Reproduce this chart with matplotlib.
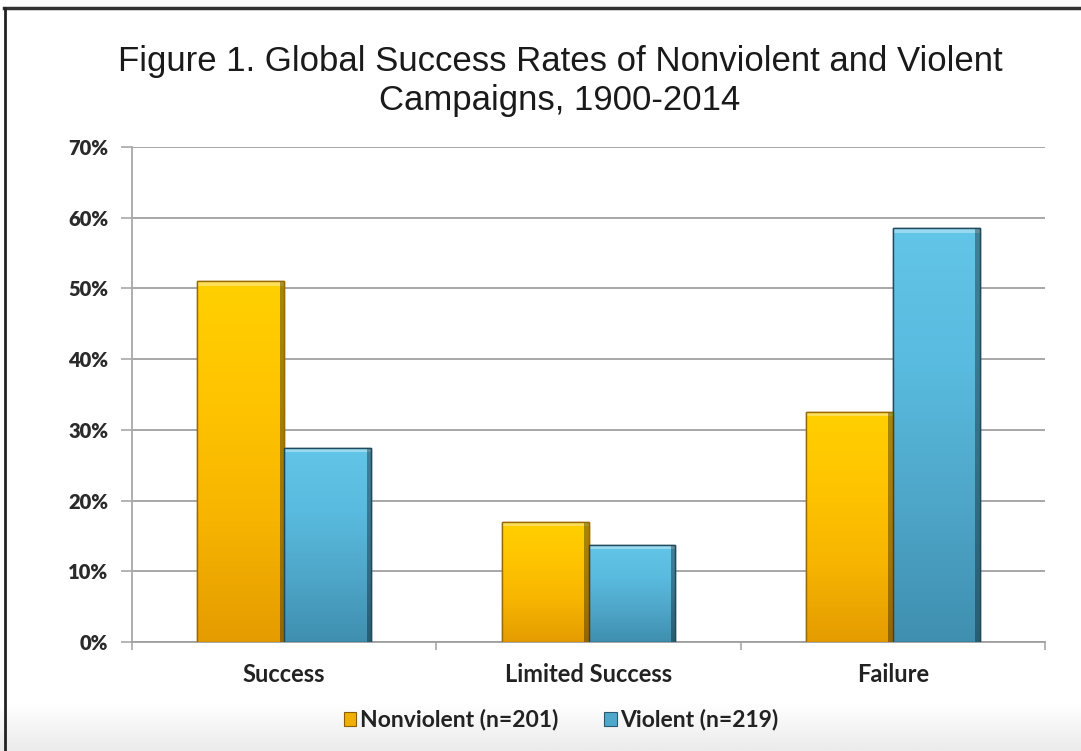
import matplotlib
matplotlib.use("Agg")
import matplotlib.pyplot as plt
import numpy as np
from matplotlib.colors import LinearSegmentedColormap
from matplotlib.patches import Rectangle
from matplotlib.lines import Line2D
from matplotlib.font_manager import FontProperties

# ---- data ----
categories = ["Success", "Limited Success", "Failure"]
nonviolent = [0.51, 0.17, 0.325]
violent = [0.275, 0.137, 0.585]
series_labels = ["Nonviolent (n=201)", "Violent (n=219)"]
yticks = [0.0, 0.1, 0.2, 0.3, 0.4, 0.5, 0.6, 0.7]
ytick_labels = ["0%", "10%", "20%", "30%", "40%", "50%", "60%", "70%"]
title = "Figure 1. Global Success Rates of Nonviolent and Violent\nCampaigns, 1900-2014"

W, H = 1081, 751
fig = plt.figure(figsize=(W / 100, H / 100), dpi=100)
fig.patch.set_facecolor("white")

# light gray gradient only at the very bottom of the slide
bg = fig.add_axes([0, 0, 1, 1], zorder=-10)
bg.axis("off")
grad = np.linspace(0, 1, 400).reshape(-1, 1)
bg_cmap = LinearSegmentedColormap.from_list(
    "bg", [(0.0, "#ececec"), (0.03, "#f5f5f5"), (0.06, "#ffffff"), (1.0, "#ffffff")])
bg.imshow(grad, aspect="auto", cmap=bg_cmap, extent=[0, 1, 0, 1], origin="lower")
bg.set_xlim(0, 1)
bg.set_ylim(0, 1)
# dark frame: top and left
bg.add_line(Line2D([0.004, 1], [1 - 8 / H, 1 - 8 / H], color="#333333", lw=2.5))
bg.add_line(Line2D([5 / W, 5 / W], [0, 1 - 8 / H], color="#222222", lw=2.0))

ax = fig.add_axes([132 / W, 1 - 642 / H, (1045 - 132) / W, (642 - 147) / H])
ax.set_facecolor("none")
x = np.arange(len(categories))
bw = 0.285

orange_cmap = LinearSegmentedColormap.from_list("or", ["#e49c00", "#f7b400", "#ffc400", "#ffd000"])
blue_cmap = LinearSegmentedColormap.from_list("bl", ["#3f8fb0", "#4ea6c8", "#59bbdf", "#62c6e8"])

bars1 = ax.bar(x - bw / 2, nonviolent, bw, color="#f8b500", edgecolor="#9a6a00", linewidth=1.0, zorder=3)
bars2 = ax.bar(x + bw / 2, violent, bw, color="#55b2d6", edgecolor="#1f4a5e", linewidth=1.0, zorder=3)

ax.set_xlim(-0.5, 2.5)
ax.set_ylim(0, 0.7)

gvals = np.linspace(0, 1, 256).reshape(-1, 1)
for bars, cmap in ((bars1, orange_cmap), (bars2, blue_cmap)):
    for b in bars:
        x0, y0 = b.get_x(), b.get_y()
        w, h = b.get_width(), b.get_height()
        im = ax.imshow(gvals, aspect="auto", cmap=cmap, origin="lower",
                       extent=[x0, x0 + w, y0, y0 + h], zorder=3.5)
        im.set_clip_path(b)
        # bevel highlight at top and dark right edge
        ax.add_patch(Rectangle((x0, y0 + h - 0.006), w, 0.006, facecolor="white", alpha=0.35,
                               edgecolor="none", zorder=3.6))
        ax.add_patch(Rectangle((x0 + w * 0.95, y0), w * 0.05, h, facecolor="black", alpha=0.35,
                               edgecolor="none", zorder=3.6))
        ax.add_patch(Rectangle((x0, y0), w, h, facecolor="none",
                               edgecolor=b.get_edgecolor(), linewidth=1.0, zorder=3.7))

tick_font = FontProperties(family="Lato", weight="heavy", size=14.5)
ax.set_yticks(yticks)
ax.set_yticklabels(ytick_labels, fontproperties=tick_font, color="#2a2a2a")
ax.yaxis.grid(True, color="#a0a0a0", linewidth=1.3, zorder=0)
ax.set_axisbelow(True)
for s in ("top", "right"):
    ax.spines[s].set_visible(False)
ax.spines["left"].set_color("#a8a8a8")
ax.spines["left"].set_linewidth(1.3)
ax.spines["bottom"].set_color("#a0a0a0")
ax.spines["bottom"].set_linewidth(1.3)
ax.tick_params(axis="y", length=8, width=1.2, color="#a8a8a8", pad=9)
ax.set_xticks([-0.5, 0.5, 1.5, 2.5], minor=False)
ax.set_xticklabels([])
ax.tick_params(axis="x", length=6, width=1.2, color="#a8a8a8")
for i, c in enumerate(categories):
    ax.text(x[i], -0.03, c, ha="center", va="top", fontsize=17, fontweight="bold",
            color="#222222", family="Lato")

fig.text(560 / W, 1 - 81 / H, title, ha="center", va="center", fontsize=25,
         family="Liberation Sans", color="#1a1a1a", linespacing=1.2)

# legend
handles = [Rectangle((0, 0), 1, 1, facecolor="#f0b000", edgecolor="#8a6000", lw=0.8),
           Rectangle((0, 0), 1, 1, facecolor="#4fa8cc", edgecolor="#2a5a70", lw=0.8)]
leg = fig.legend(handles, series_labels, loc="center", bbox_to_anchor=(561 / W, 1 - 720 / H),
                 ncol=2, frameon=False, handlelength=0.55, handleheight=0.55, handletextpad=0.15,
                 columnspacing=2.0, prop={"family": "Lato", "weight": "bold", "size": 16.5})
for t in leg.get_texts():
    t.set_color("#222222")

fig.savefig("out.png", dpi=100)
